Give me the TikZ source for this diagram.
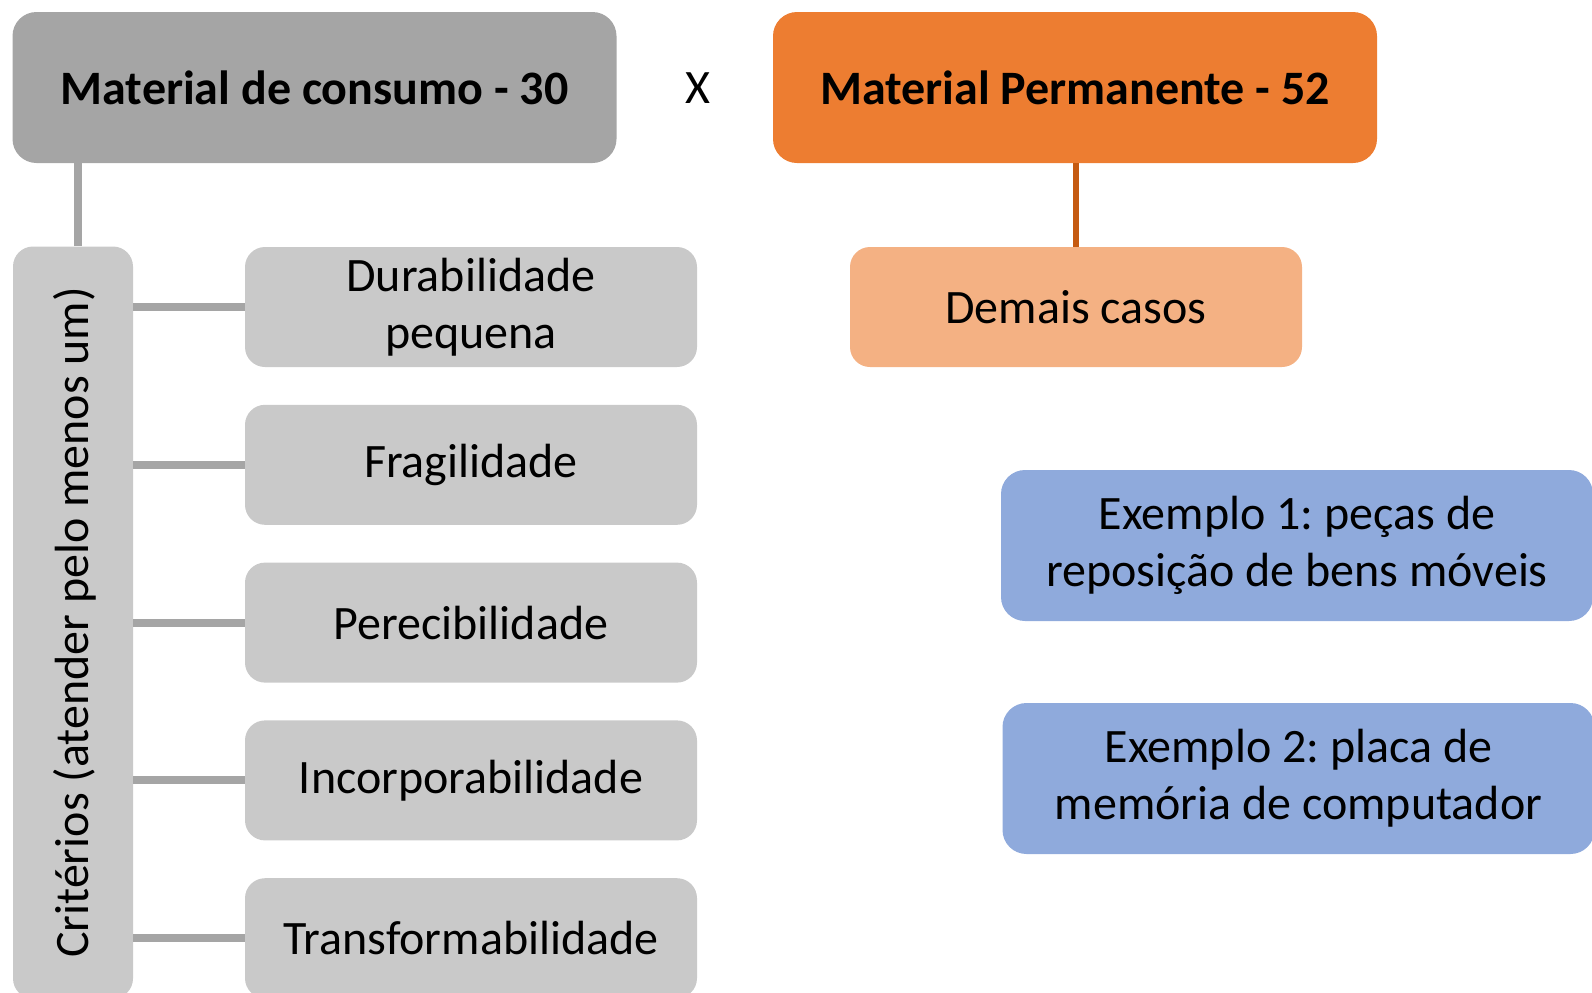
\documentclass[tikz,border=0pt]{standalone}
\usepackage{fontspec}
\setmainfont{Carlito}
\frenchspacing
\usetikzlibrary{positioning}
\definecolor{consgray}{HTML}{A5A5A5}
\definecolor{critgray}{HTML}{C9C9C9}
\definecolor{permorange}{HTML}{ED7D31}
\definecolor{linkorange}{HTML}{C55A11}
\definecolor{casoorange}{HTML}{F4B183}
\definecolor{exblue}{HTML}{8FAADC}
\tikzset{x=0.5pt, y=-0.5pt,
         every node/.style={font=\fontsize{24}{28.5}\selectfont, align=center, inner sep=0pt},
         head/.style={rounded corners=12pt, minimum width=302pt, minimum height=75.5pt, font=\fontsize{24}{28.5}\selectfont\bfseries},
         crit/.style={fill=critgray, rounded corners=10pt, minimum width=226pt, minimum height=60pt},
         expl/.style={fill=exblue, rounded corners=12pt, minimum width=296pt, minimum height=75.5pt},
         grayline/.style={draw=consgray, line width=4pt},
         orangeline/.style={draw=linkorange, line width=3pt}}

\begin{document}
\begin{tikzpicture}
	\useasboundingbox (0,0) rectangle (1592,992);
	\clip (0,0) rectangle (1592,992);

	\node[head, fill=consgray] (cons) at (314.5,87.5) {Material de consumo - 30};
	\node[head, fill=permorange] (perm) at (1075,87.5) {Material Permanente - 52};
	\node (versus) at (698,88) {X};

	\node[fill=critgray, rounded corners=10pt, minimum width=60pt, minimum height=376pt] (crits) at (73,622.5) {};
	\node[rotate=90] (critlabel) at ([xshift=1pt]crits.center) {Critérios (atender pelo menos um)};

	\node[crit] (c1) at (471,307) {Durabilidade\\pequena};
	\node[crit, below=18.5pt of c1] (c2) {Fragilidade};
	\node[crit, below=18.5pt of c2] (c3) {Perecibilidade};
	\node[crit, below=18.5pt of c3] (c4) {Incorporabilidade};
	\node[crit, below=18.5pt of c4] (c5) {Transformabilidade};

	\node[crit, fill=casoorange] (demais) at (1076,307) {Demais casos};

	\node[expl] (ex1) at (1297,545.5) {Exemplo 1: peças de\\reposição de bens móveis};
	\node[expl] (ex2) at (1298.5,778.5) {Exemplo 2: placa de\\memória de computador};

	\draw[grayline] ([xshift=2.5pt]crits.north) -- ([xshift=2.5pt]crits.north |- cons.south);
	\foreach \i in {1,...,5}
		\draw[grayline] (c\i.west) -- (c\i.west -| crits.east);
	\draw[orangeline] (demais.north) -- (demais.north |- perm.south);
\end{tikzpicture}
\end{document}
